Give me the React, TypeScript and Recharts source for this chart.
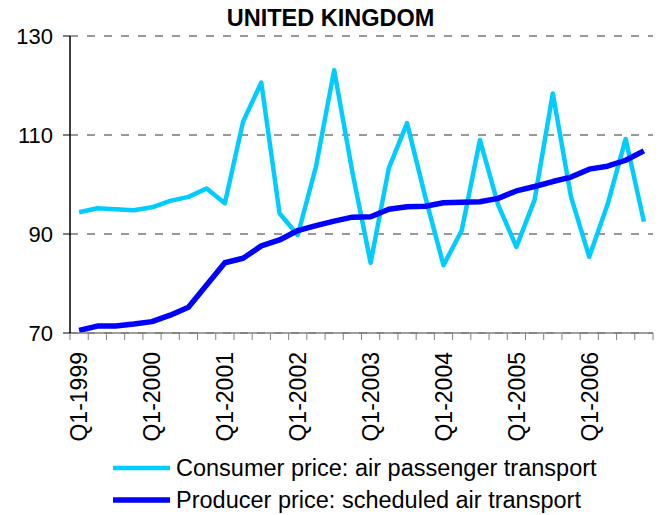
import React from "react";
import { LineChart, Line, XAxis, YAxis, CartesianGrid, Legend } from "recharts";

const quarters: string[] = [];
const years = [1999, 2000, 2001, 2002, 2003, 2004, 2005, 2006];
years.forEach((y) => {
  for (let q = 1; q <= 4; q++) quarters.push(`Q${q}-${y}`);
});

const consumerPrice = [
  94.4, 95.2, 95.0, 94.8, 95.4, 96.7, 97.5, 99.2,
  96.2, 112.7, 120.6, 94.2, 89.8, 103.6, 123.1, 102.5,
  84.2, 103.3, 112.4, 97.5, 83.7, 90.7, 109.0, 95.9,
  87.4, 96.9, 118.4, 97.5, 85.4, 95.9, 109.2, 92.5,
];

const producerPrice = [
  70.5, 71.4, 71.4, 71.8, 72.3, 73.6, 75.2, 79.7,
  84.2, 85.1, 87.6, 88.8, 90.7, 91.7, 92.6, 93.4,
  93.5, 95.0, 95.5, 95.6, 96.3, 96.4, 96.5, 97.2,
  98.7, 99.6, 100.6, 101.5, 103.1, 103.7, 104.9, 106.8,
];

const yTicks = [70, 90, 110, 130];
const boundaryTicks = Array.from({ length: quarters.length + 1 }, (_, i) => i);

const data = quarters.map((q, i) => ({
  quarter: q,
  pos: i + 0.5,
  consumer: consumerPrice[i],
  producer: producerPrice[i],
}));

const FONT = '"Liberation Sans", Arial, sans-serif';
const CYAN = "#00CCFF";
const BLUE = "#0000FF";

const XTick = (props: any) => {
  const { x, y, payload } = props;
  const label: string = payload.value;
  if (!label.startsWith("Q1")) return <g />;
  return (
    <text
      transform={`translate(${x},${y + 12}) rotate(-90)`}
      textAnchor="end"
      dy="0.36em"
      fontFamily={FONT}
      fontSize={23}
      fill="#000"
    >
      {label}
    </text>
  );
};

const EmptyTick = () => <g />;

const LegendContent = () => {
  const items = [
    { label: "Consumer price: air passenger transport", color: CYAN, w: 4.5 },
    { label: "Producer price: scheduled air transport", color: BLUE, w: 5.5 },
  ];
  return (
    <div style={{ height: 72, paddingTop: 9, boxSizing: "border-box", paddingLeft: 113 }}>
      {items.map((it) => (
        <div
          key={it.label}
          style={{
            display: "flex",
            alignItems: "center",
            height: 32,
            fontFamily: FONT,
            fontSize: 23.5,
            color: "#000",
            whiteSpace: "nowrap",
          }}
        >
          <svg width={57} height={10} style={{ marginRight: 6 }}>
            <line x1={0} y1={5} x2={57} y2={5} stroke={it.color} strokeWidth={it.w} strokeLinecap="round" />
          </svg>
          <span>{it.label}</span>
        </div>
      ))}
    </div>
  );
};

export default function App() {
  return (
    <div style={{ position: "absolute", left: 0, top: 0, width: 659, height: 515, background: "#fff" }}>
      <div
        style={{
          position: "absolute",
          left: 0,
          width: 659,
          top: 4,
          textAlign: "center",
          fontFamily: FONT,
          fontWeight: "bold",
          fontSize: 23.5,
          lineHeight: "28px",
          paddingLeft: 2,
          boxSizing: "border-box",
        }}
      >
        UNITED KINGDOM
      </div>
      <LineChart
        width={659}
        height={515}
        data={data}
        margin={{ top: 36, right: 6, left: 0, bottom: 0 }}
      >
        <CartesianGrid
          xAxisId="labels"
          horizontal
          vertical={false}
          stroke="#333"
          strokeDasharray="8 9"
          strokeWidth={1}
        />
        <XAxis
          xAxisId="bounds"
          dataKey="pos"
          type="number"
          domain={[0, quarters.length]}
          ticks={boundaryTicks}
          allowDataOverflow
          height={7}
          tickSize={7}
          tick={EmptyTick}
          stroke="#808080"
          axisLine={{ stroke: "#808080", strokeWidth: 1.5 }}
          tickLine={{ stroke: "#808080", strokeWidth: 1 }}
          interval={0}
        />
        <XAxis
          xAxisId="labels"
          dataKey="quarter"
          scale="band"
          height={103}
          interval={0}
          tick={XTick}
          tickSize={0}
          tickMargin={0}
          axisLine={false}
          tickLine={false}
        />
        <YAxis
          domain={[70, 130]}
          ticks={yTicks}
          width={70}
          tickSize={7}
          tickMargin={10}
          axisLine={{ stroke: "#000", strokeWidth: 1.5 }}
          tickLine={{ stroke: "#000", strokeWidth: 1 }}
          tick={{ fontFamily: FONT, fontSize: 22, fill: "#000" }}
          allowDataOverflow
        />
        <Legend verticalAlign="bottom" align="left" content={LegendContent} />
        <Line
          xAxisId="labels"
          dataKey="consumer"
          stroke={CYAN}
          strokeWidth={4.5}
          dot={false}
          isAnimationActive={false}
          strokeLinejoin="round"
        />
        <Line
          xAxisId="labels"
          dataKey="producer"
          stroke={BLUE}
          strokeWidth={5.5}
          dot={false}
          isAnimationActive={false}
          strokeLinejoin="round"
        />
      </LineChart>
    </div>
  );
}
